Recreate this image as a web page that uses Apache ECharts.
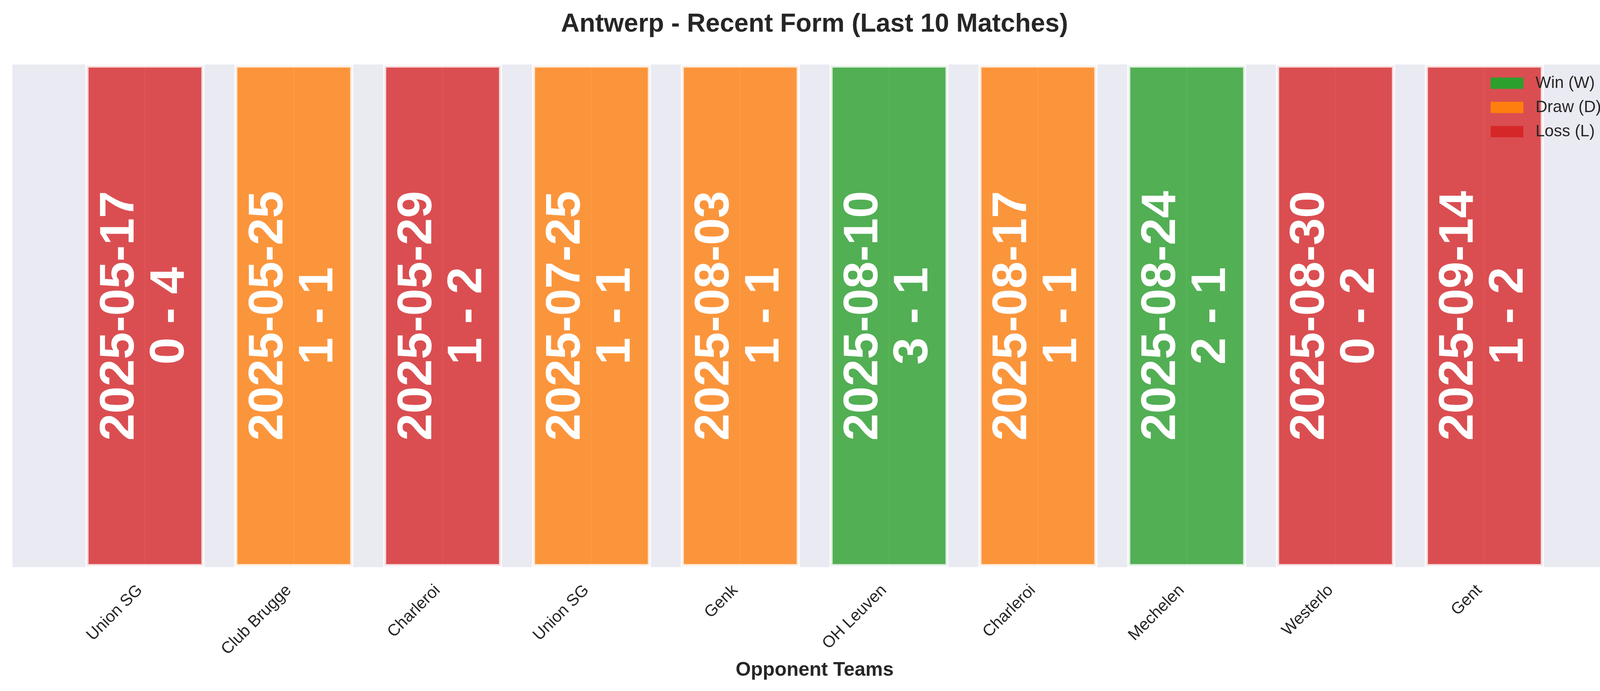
<!DOCTYPE html>
<html>
<head>
<meta charset="utf-8">
<title>Antwerp - Recent Form</title>
<script src="https://cdn.jsdelivr.net/npm/echarts@6/dist/echarts.min.js"></script>
<style>
html,body{margin:0;padding:0;background:#ffffff;}
#chart{width:4170px;height:1769px;}
</style>
</head>
<body>
<div id="chart"></div>
<script>
// last 10 matches, oldest first
var teams = ['Union SG', 'Club Brugge', 'Charleroi', 'Union SG', 'Genk', 'OH Leuven', 'Charleroi', 'Mechelen', 'Westerlo', 'Gent'];
var matchDates = ['2025-05-17', '2025-05-25', '2025-05-29', '2025-07-25', '2025-08-03', '2025-08-10', '2025-08-17', '2025-08-24', '2025-08-30', '2025-09-14'];
var scores = ['0 - 4', '1 - 1', '1 - 2', '1 - 1', '1 - 1', '3 - 1', '1 - 1', '2 - 1', '0 - 2', '1 - 2'];
var results = ['L', 'D', 'L', 'D', 'D', 'W', 'D', 'W', 'L', 'L'];

var resultOrder = ['W', 'D', 'L'];
var resultNames = {W: 'Win (W)', D: 'Draw (D)', L: 'Loss (L)'};
var resultColors = {W: '#2ca02c', D: '#ff7f0e', L: '#d62728'};

var FONT = 'Liberation Sans, Arial, sans-serif';
var TEXT = '#262626';

// tick positions = match index
var tickValues = new Array();
for (var i = 0; i < teams.length; i++) {
	tickValues.push(i);
}

var series = new Array();
for (var r = 0; r < resultOrder.length; r++) {
	var key = resultOrder[r];
	var dataArray = new Array();
	for (var i = 0; i < results.length; i++) {
		if (results[i] == key) {
			dataArray.push([i, 1]);
		}
	}
	series.push({
		name: resultNames[key],
		type: 'bar',
		data: dataArray,
		barWidth: '80%',
		barGap: '-100%',
		itemStyle: {
			color: resultColors[key],
			opacity: 0.8,
			borderColor: '#ffffff',
			borderWidth: 8
		},
		label: {
			show: true,
			position: 'inside',
			rotate: 90,
			align: 'center',
			verticalAlign: 'middle',
			opacity: 1,
			color: '#ffffff',
			fontFamily: FONT,
			fontWeight: 'bold',
			fontSize: 125,
			lineHeight: 128,
			formatter: function (p) {
				var idx = p.value[0];
				return matchDates[idx] + '\n' + scores[idx];
			}
		}
	});
}

var myChart = echarts.init(document.getElementById('chart'));
var option = {
	animation: false,
	backgroundColor: '#ffffff',
	title: {
		text: 'Antwerp - Recent Form (Last 10 Matches)',
		left: 'center',
		top: 25,
		textStyle: {
			fontFamily: FONT,
			fontWeight: 'bold',
			fontSize: 66,
			lineHeight: 66,
			color: TEXT
		}
	},
	legend: {
		orient: 'vertical',
		left: 3816,
		top: 192,
		padding: 0,
		icon: 'rect',
		itemWidth: 84,
		itemHeight: 29,
		itemGap: 20,
		itemStyle: {opacity: 1, borderWidth: 0},
		data: [resultNames.W, resultNames.D, resultNames.L],
		textStyle: {
			fontFamily: FONT,
			fontSize: 42,
			lineHeight: 42,
			color: TEXT,
			padding: [0, 0, 0, 26]
		}
	},
	grid: {
		left: 32,
		right: 31,
		top: 165,
		bottom: 317,
		show: true,
		backgroundColor: '#EAEAF2',
		borderWidth: 0
	},
	xAxis: {
		type: 'value',
		min: -0.89,
		max: 9.89,
		name: 'Opponent Teams',
		nameLocation: 'middle',
		nameGap: 229,
		nameTextStyle: {
			fontFamily: FONT,
			fontWeight: 'bold',
			fontSize: 50,
			color: TEXT
		},
		axisLine: {show: false},
		axisTick: {show: false, customValues: tickValues},
		axisLabel: {
			customValues: tickValues,
			rotate: 45,
			margin: 40,
			padding: [0, 18, 0, 0],
			fontFamily: FONT,
			fontSize: 42,
			color: TEXT,
			formatter: function (v) {
				return teams[Math.round(v)];
			}
		},
		splitLine: {
			show: true,
			lineStyle: {color: '#ffffff', width: 4}
		}
	},
	yAxis: {
		type: 'value',
		min: 0,
		max: 1,
		axisLine: {show: false},
		axisTick: {show: false},
		axisLabel: {show: false},
		splitLine: {show: false}
	},
	series: series
};
myChart.setOption(option);
</script>
</body>
</html>
